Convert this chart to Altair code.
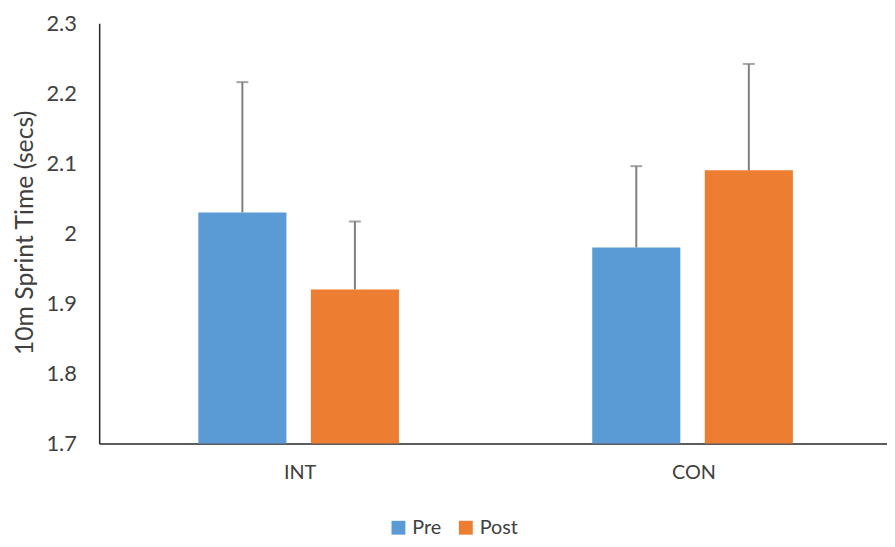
import altair as alt
import pandas as pd

groups = ["INT", "INT", "CON", "CON"]
phases = ["Pre", "Post", "Pre", "Post"]
means = [2.03, 1.92, 1.98, 2.09]
errors = [0.186, 0.097, 0.116, 0.152]

df = pd.DataFrame({"group": groups, "phase": phases, "mean": means, "err": errors})

FONT = "Lato"
TXT = "#404040"

x_enc = alt.X("group:N", sort=["INT", "CON"],
              scale=alt.Scale(paddingInner=0, paddingOuter=0),
              axis=alt.Axis(title=None, labelAngle=0, ticks=False, tickSize=0,
                            labelPadding=19, labelFontSize=20, labelFont=FONT,
                            labelOffset=4,
                            labelColor=TXT, domainColor="#262626", domainWidth=1.5,
                            grid=False))
xoff = alt.XOffset("phase:N", sort=["Pre", "Post"],
                   scale=alt.Scale(paddingInner=0.2174, paddingOuter=0.8587, align=0.513))

y_scale = alt.Scale(domain=[1.7, 2.3], zero=False, nice=False)

bars = alt.Chart(df).mark_bar(strokeWidth=0).encode(
    x=x_enc,
    xOffset=xoff,
    y=alt.Y("mean:Q", scale=y_scale,
            axis=alt.Axis(title="10m Sprint Time (secs)", values=[1.7, 1.8, 1.9, 2.0, 2.1, 2.2, 2.3],
                          format=".1~f", ticks=False, tickSize=0, labelPadding=23,
                          labelFontSize=22, labelFont=FONT, labelColor=TXT,
                          titleFont=FONT, titleFontSize=25, titleFontWeight="normal",
                          titleColor=TXT, titleX=-75, titleY=211, titleBaseline="middle",
                          domainColor="#262626", domainWidth=1.5, grid=False)),
    y2=alt.datum(1.7),
    color=alt.Color("phase:N", sort=["Pre", "Post"],
                    scale=alt.Scale(domain=["Pre", "Post"], range=["#5b9bd5", "#ed7d31"]),
                    legend=alt.Legend(title=None, orient="none", direction="horizontal",
                                      legendX=292, legendY=499, symbolType="square",
                                      symbolSize=196, symbolStrokeWidth=0,
                                      labelFont=FONT, labelFontSize=20, labelColor=TXT,
                                      labelOffset=4, columnPadding=14)),
)

base_err = alt.Chart(df).transform_calculate(upper="datum.mean + datum.err")

rules = base_err.mark_rule(color="#7f7f7f", strokeWidth=2).encode(
    x=alt.X("group:N", sort=["INT", "CON"]),
    xOffset=xoff,
    y=alt.Y("mean:Q", scale=y_scale),
    y2="upper:Q",
)

caps = base_err.mark_tick(color="#7f7f7f", thickness=2, size=12, orient="horizontal").encode(
    x=alt.X("group:N", sort=["INT", "CON"]),
    xOffset=xoff,
    y=alt.Y("upper:Q", scale=y_scale),
)

chart = alt.layer(bars, rules, caps).properties(
    width=795, height=424,
    autosize=alt.AutoSizeParams(type="none"),
    padding={"left": 92, "top": 13, "right": 0, "bottom": 102},
).configure_view(stroke=None)

chart.save("out.html", embed_options={"renderer": "svg", "actions": False})
